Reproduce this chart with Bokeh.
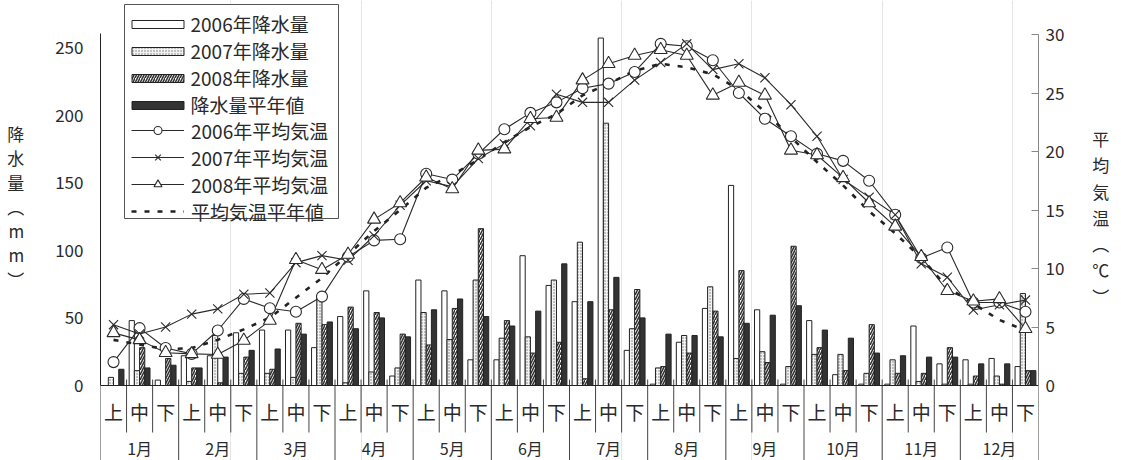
import numpy as np
from bokeh.plotting import figure
from bokeh.models import (Range1d, LinearAxis, FixedTicker, Legend, LegendItem,
                          BoxAnnotation, Span, ColumnDataSource)
from bokeh.transform import dodge
from bokeh.embed import file_html
from bokeh.resources import INLINE
from bokeh.core.properties import value

# ---------------- data ----------------
months = ["1月", "2月", "3月", "4月", "5月", "6月", "7月", "8月", "9月", "10月", "11月", "12月"]
dekads = ["上", "中", "下"]

rain_2006 = [0, 48, 4, 22, 22, 39, 41, 41, 28, 51, 70, 7, 78, 70, 19, 19, 96, 74,
             62, 257, 26, 1, 32, 57, 148, 56, 1, 48, 8, 1, 1, 44, 16, 19, 20, 14]
rain_2007 = [6, 11, 0, 3, 37, 9, 9, 6, 65, 2, 10, 13, 54, 34, 78, 35, 36, 78,
             106, 194, 42, 13, 37, 73, 20, 25, 14, 23, 23, 9, 19, 3, 1, 1, 7, 68]
rain_2008 = [0, 28, 20, 13, 2, 21, 12, 46, 45, 58, 54, 38, 30, 57, 116, 48, 24, 32,
             5, 56, 71, 14, 24, 55, 85, 17, 103, 28, 11, 45, 9, 9, 28, 7, 1, 11]
rain_norm = [12, 13, 15, 13, 21, 26, 27, 38, 47, 42, 50, 36, 56, 64, 51, 44, 55, 90,
             62, 80, 50, 38, 37, 36, 46, 52, 59, 41, 35, 24, 22, 21, 21, 16, 16, 11]

temp_2006 = [2.0, 4.9, 3.2, 2.7, 4.7, 7.4, 6.6, 6.3, 7.6, 11.0, 12.4, 12.5, 18.1, 17.6, 19.8, 21.9, 23.3, 24.2,
             25.4, 25.8, 26.8, 29.2, 29.0, 27.8, 25.0, 22.8, 21.3, 19.8, 19.2, 17.5, 14.6, 10.9, 11.8, 7.1, 7.1, 6.3]
temp_2007 = [5.2, 4.4, 5.0, 6.1, 6.55, 7.8, 7.9, 10.5, 11.1, 10.7, 12.8, 15.4, 17.5, 17.0, 19.4, 20.65, 22.2, 24.9,
             24.2, 24.2, 26.1, 27.6, 29.2, 27.0, 27.5, 26.3, 24.0, 21.3, 17.6, 16.1, 14.6, 10.4, 9.25, 6.45, 6.9, 7.3]
temp_2008 = [4.5, 3.9, 2.8, 2.7, 2.65, 3.85, 5.55, 10.75, 9.9, 11.2, 14.2, 15.6, 17.8, 16.8, 20.1, 20.2, 22.8, 22.9,
             26.1, 27.5, 28.2, 28.7, 28.2, 24.8, 25.9, 24.8, 20.1, 19.7, 17.75, 15.6, 13.6, 11.0, 8.1, 7.2, 7.4, 4.85]
temp_norm = [3.9, 3.5, 3.1, 3.2, 3.9, 4.8, 5.8, 7.5, 9.2, 11.2, 13.2, 15.0, 16.9, 18.0, 19.3, 20.8, 22.1, 23.2,
             24.8, 25.8, 26.9, 27.5, 27.2, 26.6, 25.3, 23.4, 21.2, 19.1, 17.1, 14.9, 13.0, 10.9, 8.4, 7.0, 5.6, 4.7]

rain_ticks = [0, 50, 100, 150, 200, 250]
temp_ticks = [0, 5, 10, 15, 20, 25, 30]

# ---------------- layout constants ----------------
FONT = "Noto Sans CJK JP"
TXT = "#2a2a2a"
W, H = 1121, 460
N = len(months) * len(dekads)
ZERO_PX = 385            # pixel row of the zero line (from top)
MM_PX = 1.352            # pixels per mm
DEG_PX = 11.7            # pixels per degree
mm = lambda px: px / MM_PX   # pixel offset -> mm units

dekad_labels = [d for m in months for d in dekads]
xc = np.arange(N) + 0.5

src = ColumnDataSource(dict(x=xc, r2006=rain_2006, r2007=rain_2007, r2008=rain_2008, rnorm=rain_norm,
                            t2006=temp_2006, t2007=temp_2007, t2008=temp_2008, tnorm=temp_norm))

p = figure(width=W, height=H, x_range=Range1d(0, N),
           y_range=Range1d(-mm(H - ZERO_PX), mm(ZERO_PX)),
           x_axis_location=None, output_backend="svg", toolbar_location=None,
           min_border_left=100, min_border_right=83, min_border_top=0, min_border_bottom=0)
p.outline_line_color = None
p.ygrid.visible = False
p.extra_y_ranges = {"temp": Range1d(-(H - ZERO_PX) / DEG_PX, ZERO_PX / DEG_PX)}

title_kw = dict(axis_label_orientation="horizontal", axis_label_text_align="center",
                axis_label_text_font=FONT, axis_label_text_font_size="17px",
                axis_label_text_font_style="normal", axis_label_text_color=TXT)

ya = p.yaxis[0]
ya.ticker = FixedTicker(ticks=rain_ticks)
ya.bounds = (0, 260)
ya.axis_line_color = "#222"
ya.major_tick_line_color = None
ya.minor_tick_line_color = None
ya.major_label_text_font = FONT
ya.major_label_text_font_size = "17px"
ya.major_label_text_color = TXT
ya.major_label_standoff = 11
# blank trailing lines lift the stacked title to its place
ya.axis_label = "降\n水\n量\n︵\nm\nm\n︶\n\u3000\n\u3000"
ya.axis_label_standoff = 28
ya.axis_label_text_line_height = 0.97
for k, v in title_kw.items():
    setattr(ya, k, v)

ra = LinearAxis(y_range_name="temp", ticker=FixedTicker(ticks=temp_ticks), bounds=(0, 30),
                axis_line_color="#888", major_tick_line_color="#888", major_tick_in=7, major_tick_out=0,
                minor_tick_line_color=None, major_label_text_font=FONT, major_label_text_font_size="17px",
                major_label_text_color=TXT, major_label_standoff=7,
                axis_label="平\n均\n気\n温\n︵\n℃\n︶\n\u3000", axis_label_standoff=25,
                axis_label_text_line_height=1.05, **title_kw)
p.add_layout(ra, "right")

# ---------------- category table (below the zero line) ----------------
all_b = np.arange(0, N + 1)
month_b = all_b[all_b % 3 == 0]
dek_b = all_b[all_b % 3 != 0]
y_bottom = -mm(H - ZERO_PX)
y_row = -mm(432 - ZERO_PX)
p.segment(x0=month_b, x1=month_b, y0=mm(6), y1=y_bottom, line_color="#444", line_width=1)
p.segment(x0=dek_b, x1=dek_b, y0=mm(6), y1=y_row, line_color="#444", line_width=1)
p.add_layout(Span(location=0, dimension="width", line_color="#222", line_width=1))
p.text(x=xc, y=[-mm(411 - ZERO_PX)] * N, text=dekad_labels, text_font=value(FONT), text_font_size="19px",
       text_align="center", text_baseline="middle", text_color=TXT)
p.text(x=np.arange(len(months)) * 3 + 1.5, y=[-mm(447 - ZERO_PX)] * len(months), text=months,
       text_font=value(FONT), text_font_size="16px", text_align="center", text_baseline="middle",
       text_color=TXT)

# ---------------- bars ----------------
BW = 0.2
b06 = p.vbar(x=dodge("x", -0.3), top="r2006", width=BW, source=src,
             fill_color="white", line_color="#222", line_width=1)
b07 = p.vbar(x=dodge("x", -0.1), top="r2007", width=BW, source=src,
             fill_color="#f2f2f2", hatch_pattern=".", hatch_color="#777", hatch_scale=3, hatch_weight=1,
             line_color="#222", line_width=1)
b08 = p.vbar(x=dodge("x", 0.1), top="r2008", width=BW, source=src,
             fill_color="white", hatch_pattern="/", hatch_color="#333", hatch_scale=5, hatch_weight=1.6,
             line_color="#222", line_width=1)
bn = p.vbar(x=dodge("x", 0.3), top="rnorm", width=BW, source=src,
            fill_color="#333", line_color="#222", line_width=1)

# ---------------- temperature lines ----------------
LC = "#2a2a2a"
l06 = p.line("x", "t2006", source=src, y_range_name="temp", line_color=LC, line_width=1.1)
l07 = p.line("x", "t2007", source=src, y_range_name="temp", line_color=LC, line_width=1.1)
l08 = p.line("x", "t2008", source=src, y_range_name="temp", line_color=LC, line_width=1.1)
ln = p.line("x", "tnorm", source=src, y_range_name="temp", line_color="#222", line_width=2.6,
            line_dash="5 8")
m06 = p.scatter("x", "t2006", source=src, y_range_name="temp", marker="circle", size=11,
                fill_color="white", line_color=LC, line_width=1.1)
m07 = p.scatter("x", "t2007", source=src, y_range_name="temp", marker="x", size=13,
                line_color=LC, line_width=1.1)
m08 = p.scatter("x", "t2008", source=src, y_range_name="temp", marker="triangle", size=13,
                fill_color="white", line_color=LC, line_width=1.1)

# ---------------- legend ----------------
p.add_layout(BoxAnnotation(left=24, right=238, top=456, bottom=242,
                           left_units="screen", right_units="screen", top_units="screen", bottom_units="screen",
                           fill_color="white", fill_alpha=1, line_color="#555", line_width=1, line_alpha=1))

common = dict(border_line_color=None, background_fill_alpha=0, margin=0, padding=2, spacing=-1,
              label_height=20, label_text_font=FONT, label_text_font_size="19px", label_text_color=TXT)
legA = Legend(items=[LegendItem(label="2006年降水量", renderers=[b06]),
                     LegendItem(label="2007年降水量", renderers=[b07]),
                     LegendItem(label="2008年降水量", renderers=[b08]),
                     LegendItem(label="降水量平年値", renderers=[bn])],
              location=(24.5, 341.7), glyph_width=65, glyph_height=10, label_standoff=1, **common)
legB = Legend(items=[LegendItem(label="2006年平均気温", renderers=[l06, m06]),
                     LegendItem(label="2007年平均気温", renderers=[l07, m07]),
                     LegendItem(label="2008年平均気温", renderers=[l08, m08]),
                     LegendItem(label="平均気温平年値", renderers=[ln])],
              location=(31, 235.2), glyph_width=53, glyph_height=20, label_standoff=7, **common)
p.add_layout(legA)
p.add_layout(legB)

open("out.html", "w").write(file_html(p, INLINE))
